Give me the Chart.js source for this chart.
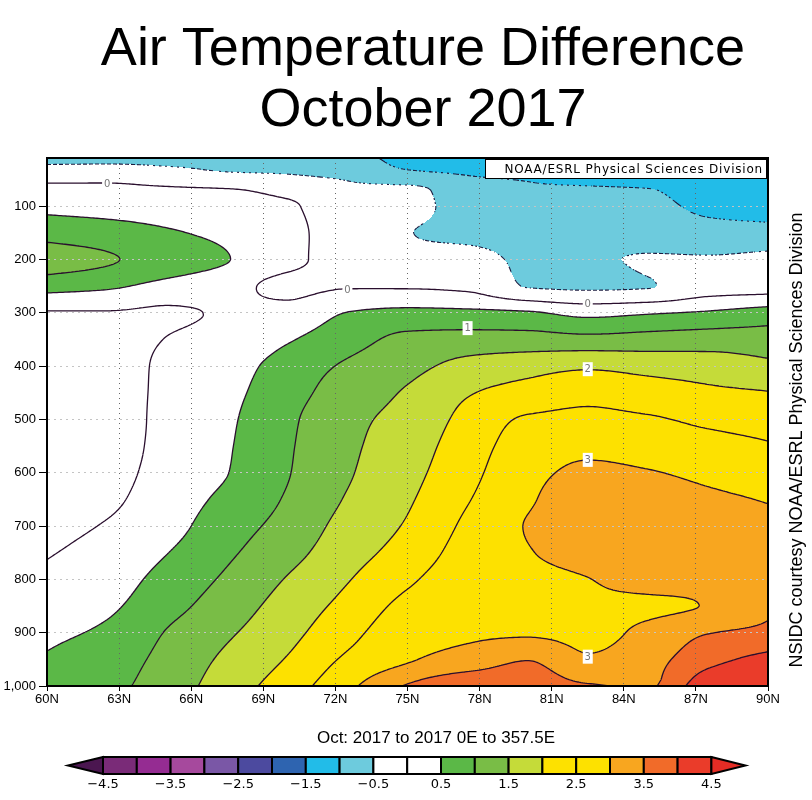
<!DOCTYPE html>
<html>
<head>
<meta charset="utf-8">
<script src="https://cdn.jsdelivr.net/npm/chart.js@4.4.1/dist/chart.umd.min.js"></script>
<style>
  html, body { margin: 0; padding: 0; background: #fff; }
</style>
</head>
<body>
<canvas id="chart1" width="812" height="800"></canvas>
<script>
// grid of the field: latitude columns and pressure rows (hPa, top to bottom)
const latitudes = [60, 62.5, 65, 67.5, 70, 72.5, 75, 77.5, 80, 82.5, 85, 87.5, 90];
const pressureLevels = [10, 30, 50, 70, 100, 150, 200, 250, 300, 350, 400, 450, 500, 550, 600, 650, 700, 750, 800, 850, 900, 950, 1000];

// temperature difference (deg C), one row per pressure level, one value per latitude
const tempDiff = [
  [-0.75, -0.7, -0.65, -0.6, -0.8, -0.85, -1.15, -1.25, -1.4, -1.5, -1.55, -1.6, -1.65],
  [-0.35, -0.35, -0.45, -0.55, -0.6, -0.72, -1.02, -1.1, -1.25, -1.35, -1.4, -1.45, -1.55],
  [-0.04, -0.04, -0.12, -0.3, -0.4, -0.52, -0.75, -0.95, -1.02, -1.12, -1.2, -1.35, -1.45],
  [0.06, 0.06, 0.05, 0.03, -0.15, -0.4, -0.35, -0.85, -0.95, -0.95, -0.98, -1.25, -1.35],
  [0.35, 0.3, 0.25, 0.2, 0.07, -0.3, -0.3, -0.78, -0.88, -0.88, -0.9, -1.1, -1.2],
  [0.8, 0.7, 0.55, 0.38, 0.12, -0.22, -0.48, -0.65, -0.8, -0.82, -0.85, -0.85, -0.85],
  [1.25, 1.05, 0.8, 0.52, 0.1, -0.15, -0.35, -0.3, -0.6, -0.58, -0.45, -0.45, -0.38],
  [0.7, 0.58, 0.35, 0.15, -0.1, -0.03, -0.05, -0.1, -0.52, -0.55, -0.52, -0.25, -0.2],
  [-0.02, -0.02, -0.05, 0.05, 0.15, 0.51, 0.62, 0.6, 0.55, 0.35, 0.45, 0.55, 0.7],
  [-0.15, -0.15, 0.01, 0.12, 0.45, 0.8, 1.12, 1.2, 1.2, 1.15, 1.2, 1.25, 1.25],
  [-0.25, -0.22, 0.1, 0.3, 0.7, 1.07, 1.35, 1.65, 1.8, 1.92, 1.82, 1.75, 1.6],
  [-0.3, -0.25, 0.13, 0.38, 0.8, 1.25, 1.55, 1.96, 2.2, 2.38, 2.25, 2.1, 2.02],
  [-0.3, -0.25, 0.15, 0.43, 0.9, 1.38, 1.65, 2.15, 2.55, 2.6, 2.55, 2.4, 2.3],
  [-0.3, -0.22, 0.16, 0.46, 0.94, 1.41, 1.75, 2.27, 2.72, 2.88, 2.8, 2.67, 2.54],
  [-0.25, -0.15, 0.18, 0.49, 0.97, 1.45, 1.84, 2.36, 2.84, 3.1, 3.03, 2.88, 2.72],
  [-0.2, -0.08, 0.25, 0.62, 1.05, 1.54, 1.94, 2.47, 2.93, 3.3, 3.25, 3.1, 2.97],
  [-0.12, 0.03, 0.33, 0.78, 1.17, 1.67, 2.05, 2.6, 3.03, 3.35, 3.35, 3.25, 3.12],
  [-0.03, 0.15, 0.49, 0.92, 1.33, 1.8, 2.2, 2.7, 2.97, 3.2, 3.3, 3.25, 3.22],
  [0.1, 0.28, 0.67, 1.08, 1.53, 1.97, 2.42, 2.78, 2.88, 2.99, 3.15, 3.1, 3.3],
  [0.25, 0.42, 0.83, 1.25, 1.7, 2.15, 2.63, 2.84, 2.85, 2.92, 2.93, 3.02, 3.42],
  [0.4, 0.58, 1.03, 1.43, 1.85, 2.35, 2.8, 2.92, 2.95, 2.9, 3.1, 3.48, 3.6],
  [0.55, 0.75, 1.15, 1.6, 2.03, 2.58, 2.95, 3.2, 3.48, 3.05, 3.3, 3.85, 4.15],
  [0.75, 0.88, 1.25, 1.75, 2.25, 2.88, 3.55, 3.95, 3.85, 3.55, 3.45, 4.3, 4.45]
];

// axis ticks
const pressureTicks = [100, 200, 300, 400, 500, 600, 700, 800, 900, 1000];

// shading levels and colours (one more colour than edges: below first / above last)
const levelEdges = [-4.5, -4, -3.5, -3, -2.5, -2, -1.5, -1, -0.5, 0, 0.5, 1, 1.5, 2, 2.5, 3, 3.5, 4, 4.5];
const levelColors = ['#4b1650', '#7a2b78', '#952c92', '#a6499d', '#7a57a6', '#4c4a9f', '#2e64b0', '#22bce8',
  '#6dcbdd', '#ffffff', '#ffffff', '#5bb847', '#79bd46', '#c5db39', '#fde100', '#fde100', '#f8a61f',
  '#f16b29', '#ea3c2a', '#e42c25'];
const colorbarLabels = [-4.5, -3.5, -2.5, -1.5, -0.5, 0.5, 1.5, 2.5, 3.5, 4.5];

// contour lines and their labels
const contourLevels = [-1, -0.5, 0, 0.5, 1, 1.5, 2, 2.5, 3, 3.5, 4];
const contourLabelLat = [62.5, 72.5, 82.5, 77.5, 82.5, 82.5, 82.5];
const contourLabelP = [58, 257, 283, 329, 406, 576, 945];
const contourLabelText = ['0', '0', '0', '1', '2', '3', '3'];

const fontSans = "'Liberation Sans', Arial, Helvetica, sans-serif";
const fontGrads = "'DejaVu Sans', Verdana, sans-serif";

// find cell and fraction along an ascending array
function locate(arr, v) {
    let i = 0;
    while (i < arr.length - 2 && v > arr[i + 1]) i++;
    const t = Math.min(1, Math.max(0, (v - arr[i]) / (arr[i + 1] - arr[i])));
    return [i, t];
}

// monotone cubic (pchip) slopes, keeps the contours smooth without overshoot
function pchipSlopes(xs, ys) {
    const n = xs.length, h = [], d = [], m = new Array(n);
    for (let k = 0; k < n - 1; k++) {
        h.push(xs[k + 1] - xs[k]);
        d.push((ys[k + 1] - ys[k]) / h[k]);
    }
    m[0] = d[0];
    m[n - 1] = d[n - 2];
    for (let k = 1; k < n - 1; k++) {
        if (d[k - 1] * d[k] <= 0) {
            m[k] = 0;
        } else {
            const w1 = 2 * h[k] + h[k - 1], w2 = h[k] + 2 * h[k - 1];
            m[k] = (w1 + w2) / (w1 / d[k - 1] + w2 / d[k]);
        }
    }
    return m;
}

function hermite(xs, ys, m, x) {
    const [k, t] = locate(xs, x);
    const hk = xs[k + 1] - xs[k];
    const t2 = t * t, t3 = t2 * t;
    return (2 * t3 - 3 * t2 + 1) * ys[k] + (t3 - 2 * t2 + t) * hk * m[k] +
        (-2 * t3 + 3 * t2) * ys[k + 1] + (t3 - t2) * hk * m[k + 1];
}

// columns of the table and their slopes along pressure
const columns = latitudes.map((lat, i) => tempDiff.map(row => row[i]));
const columnSlopes = columns.map(col => pchipSlopes(pressureLevels, col));

// returns a function lat -> value for one pressure
function rowSampler(p) {
    const vals = columns.map((col, i) => hermite(pressureLevels, col, columnSlopes[i], p));
    const slopes = pchipSlopes(latitudes, vals);
    return lat => hermite(latitudes, vals, slopes, lat);
}

function binIndex(v) {
    let k = 0;
    while (k < levelEdges.length && v >= levelEdges[k]) k++;
    return k;
}

function hexToRgb(h) {
    return [parseInt(h.slice(1, 3), 16), parseInt(h.slice(3, 5), 16), parseInt(h.slice(5, 7), 16)];
}
const levelRgb = levelColors.map(hexToRgb);

// shaded field, drawn before the grid so the dotted grid sits on top
const shadePlugin = {
    id: 'shadeField',
    beforeDraw(chart) {
        const {ctx, chartArea: a, scales} = chart;
        const left = Math.round(a.left), top = Math.round(a.top);
        const w = Math.round(a.right) - left, h = Math.round(a.bottom) - top;
        const img = ctx.createImageData(w, h);
        const lats = [];
        for (let i = 0; i < w; i++) lats.push(scales.x.getValueForPixel(left + i + 0.5));
        for (let j = 0; j < h; j++) {
            const at = rowSampler(scales.y.getValueForPixel(top + j + 0.5));
            for (let i = 0; i < w; i++) {
                const c = levelRgb[binIndex(at(lats[i]))];
                const k = (j * w + i) * 4;
                img.data[k] = c[0];
                img.data[k + 1] = c[1];
                img.data[k + 2] = c[2];
                img.data[k + 3] = 255;
            }
        }
        ctx.putImageData(img, left, top);
    }
};

// contour lines with marching squares over a fine pixel grid
const contourPlugin = {
    id: 'contourLines',
    afterDatasetsDraw(chart) {
        const {ctx, chartArea: a, scales} = chart;
        const step = 2;
        const px = [], py = [];
        for (let x = a.left; x < a.right; x += step) px.push(x);
        px.push(a.right);
        for (let y = a.top; y < a.bottom; y += step) py.push(y);
        py.push(a.bottom);
        const lats = px.map(x => scales.x.getValueForPixel(x));
        const f = py.map(y => {
            const at = rowSampler(scales.y.getValueForPixel(y));
            return lats.map(at);
        });

        ctx.save();
        ctx.beginPath();
        ctx.rect(a.left, a.top, a.right - a.left, a.bottom - a.top);
        ctx.clip();
        contourLevels.forEach(level => {
            const dashed = level < 0;
            ctx.beginPath();
            for (let j = 0; j < py.length - 1; j++) {
                for (let i = 0; i < px.length - 1; i++) {
                    const v0 = f[j][i], v1 = f[j][i + 1], v2 = f[j + 1][i + 1], v3 = f[j + 1][i];
                    const b0 = v0 > level, b1 = v1 > level, b2 = v2 > level, b3 = v3 > level;
                    if (b0 === b1 && b1 === b2 && b2 === b3) continue;
                    const x0 = px[i], x1 = px[i + 1], y0 = py[j], y1 = py[j + 1];
                    const pts = [];
                    if (b0 !== b1) pts.push([x0 + (x1 - x0) * (level - v0) / (v1 - v0), y0]);
                    if (b1 !== b2) pts.push([x1, y0 + (y1 - y0) * (level - v1) / (v2 - v1)]);
                    if (b2 !== b3) pts.push([x0 + (x1 - x0) * (level - v3) / (v2 - v3), y1]);
                    if (b3 !== b0) pts.push([x0, y0 + (y1 - y0) * (level - v0) / (v3 - v0)]);
                    const segs = [];
                    if (pts.length === 2) {
                        segs.push([pts[0], pts[1]]);
                    } else if (pts.length === 4) {
                        const centre = (v0 + v1 + v2 + v3) / 4 > level;
                        if (centre === b0) {
                            segs.push([pts[0], pts[1]], [pts[2], pts[3]]);
                        } else {
                            segs.push([pts[0], pts[3]], [pts[1], pts[2]]);
                        }
                    }
                    segs.forEach(s => {
                        if (dashed) {
                            const mx = (s[0][0] + s[1][0]) / 2, my = (s[0][1] + s[1][1]) / 2;
                            if ((Math.floor(mx / 3) + Math.floor(my / 3)) % 2 !== 0) return;
                        }
                        ctx.moveTo(s[0][0], s[0][1]);
                        ctx.lineTo(s[1][0], s[1][1]);
                    });
                }
            }
            ctx.lineWidth = dashed ? 1.1 : 1.3;
            ctx.strokeStyle = dashed ? '#1c1c40' : '#2a0f2e';
            ctx.stroke();
        });
        ctx.restore();

        // contour labels
        ctx.save();
        ctx.font = '10px ' + fontGrads;
        ctx.textAlign = 'center';
        ctx.textBaseline = 'middle';
        contourLabelText.forEach((t, k) => {
            const x = scales.x.getPixelForValue(contourLabelLat[k]);
            const y = scales.y.getPixelForValue(contourLabelP[k]);
            ctx.fillStyle = '#ffffff';
            ctx.fillRect(x - 5, y - 7, 10, 14);
            ctx.fillStyle = '#777777';
            ctx.fillText(t, x, y + 0.5);
        });
        ctx.restore();
    }
};

// titles, frame, credit box and colour bar
const decorPlugin = {
    id: 'decor',
    afterDraw(chart) {
        const {ctx, chartArea: a} = chart;
        ctx.save();
        // frame
        ctx.strokeStyle = '#000';
        ctx.lineWidth = 2;
        ctx.strokeRect(a.left, a.top, a.right - a.left, a.bottom - a.top);

        // title
        ctx.fillStyle = '#000';
        ctx.textAlign = 'center';
        ctx.textBaseline = 'alphabetic';
        ctx.font = '54px ' + fontSans;
        ctx.fillText('Air Temperature Difference', 423, 65);
        ctx.fillText('October 2017', 423, 126);

        // NOAA box
        ctx.fillStyle = '#fff';
        ctx.fillRect(485, a.top + 1, a.right - 486, 19);
        ctx.lineWidth = 1;
        ctx.strokeRect(485.5, a.top + 1.5, a.right - 487, 19);
        ctx.fillStyle = '#000';
        ctx.font = '12px ' + fontGrads;
        ctx.letterSpacing = '0.8px';
        ctx.textAlign = 'right';
        ctx.fillText('NOAA/ESRL Physical Sciences Division', a.right - 5, a.top + 15);
        ctx.letterSpacing = '0px';

        // subtitle under the axis
        ctx.textAlign = 'center';
        ctx.font = '17px ' + fontSans;
        ctx.fillText('Oct: 2017 to 2017 0E to 357.5E', 436, 743);

        // vertical credit
        ctx.save();
        ctx.translate(802, 440);
        ctx.rotate(-Math.PI / 2);
        ctx.font = '18px ' + fontSans;
        ctx.textAlign = 'center';
        ctx.fillText('NSIDC courtesy NOAA/ESRL Physical Sciences Division', 0, 0);
        ctx.restore();

        // colour bar
        const x0 = 103, boxW = 33.8, yTop = 757, yBot = 774, yMid = (yTop + yBot) / 2;
        const nBox = levelEdges.length - 1;
        ctx.lineWidth = 2;
        ctx.strokeStyle = '#000';
        ctx.beginPath();
        ctx.moveTo(x0, yTop);
        ctx.lineTo(x0 - 35, yMid);
        ctx.lineTo(x0, yBot);
        ctx.closePath();
        ctx.fillStyle = levelColors[0];
        ctx.fill();
        ctx.stroke();
        for (let k = 0; k < nBox; k++) {
            ctx.fillStyle = levelColors[k + 1];
            ctx.fillRect(x0 + k * boxW, yTop, boxW, yBot - yTop);
            ctx.strokeRect(x0 + k * boxW, yTop, boxW, yBot - yTop);
        }
        const xEnd = x0 + nBox * boxW;
        ctx.beginPath();
        ctx.moveTo(xEnd, yTop);
        ctx.lineTo(xEnd + 34, yMid);
        ctx.lineTo(xEnd, yBot);
        ctx.closePath();
        ctx.fillStyle = levelColors[levelColors.length - 1];
        ctx.fill();
        ctx.stroke();

        ctx.fillStyle = '#000';
        ctx.font = '13px ' + fontGrads;
        ctx.textAlign = 'center';
        colorbarLabels.forEach(v => {
            const x = x0 + (v - levelEdges[0]) / 0.5 * boxW;
            const t = (v < 0 ? '\u2212' : '') + Math.abs(v).toFixed(1);
            ctx.fillText(t, x, 788);
        });
        ctx.restore();
    }
};

// grid points for the library
const gridPoints = [];
pressureLevels.forEach((p, j) => {
    latitudes.forEach((lat, i) => gridPoints.push({x: lat, y: p, v: tempDiff[j][i]}));
});

const chart = new Chart(document.querySelector('#chart1'), {
    type: 'scatter',
    data: {
        datasets: [{
            label: 'Air temperature difference',
            data: gridPoints,
            pointRadius: 0,
            showLine: false
        }]
    },
    options: {
        responsive: false,
        animation: false,
        devicePixelRatio: 1,
        layout: { padding: { top: 158, right: 44, bottom: 80, left: 0 } },
        plugins: {
            legend: { display: false },
            tooltip: { enabled: false }
        },
        scales: {
            x: {
                type: 'linear',
                min: 60,
                max: 90,
                afterFit: s => { s.height = 34; },
                ticks: {
                    stepSize: 3,
                    autoSkip: false,
                    maxRotation: 0,
                    padding: 1,
                    color: '#000',
                    font: { family: fontSans, size: 13 },
                    callback: v => v + 'N'
                },
                grid: { color: '#666', lineWidth: 1, tickLength: 5, tickColor: '#000', tickBorderDash: [] },
                border: { color: '#000', width: 2, dash: [1, 4] }
            },
            y: {
                type: 'linear',
                reverse: true,
                min: 10,
                max: 1000,
                afterBuildTicks: s => { s.ticks = pressureTicks.map(v => ({ value: v })); },
                afterFit: s => { s.width = 47; },
                ticks: {
                    padding: 3,
                    color: '#000',
                    font: { family: fontSans, size: 13 }
                },
                grid: { color: '#c4c4c4', lineWidth: 1, tickLength: 8, tickColor: '#000', tickBorderDash: [] },
                border: { color: '#000', width: 2, dash: [2, 4] }
            }
        }
    },
    plugins: [shadePlugin, contourPlugin, decorPlugin]
});
</script>
</body>
</html>
